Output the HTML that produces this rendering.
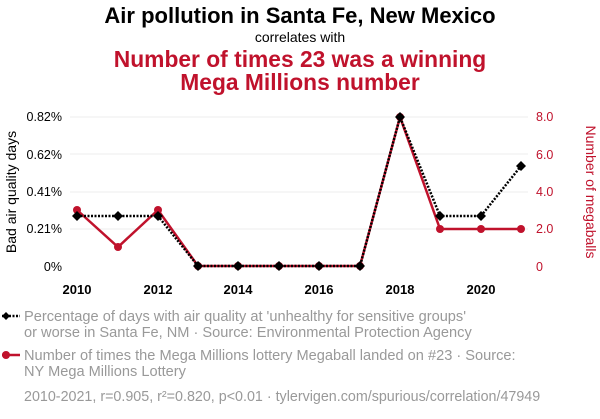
<!DOCTYPE html>
<html><head><meta charset="utf-8"><style>
body{margin:0;background:#fff;width:600px;height:414px;overflow:hidden;font-family:"Liberation Sans",sans-serif}
</style></head><body>
<svg width="600" height="414" xmlns="http://www.w3.org/2000/svg" font-family="Liberation Sans, sans-serif">
<text x="300" y="23" text-anchor="middle" font-size="22" font-weight="bold" fill="#000">Air pollution in Santa Fe, New Mexico</text>
<text x="300" y="42" text-anchor="middle" font-size="14" fill="#000">correlates with</text>
<text x="300" y="67" text-anchor="middle" font-size="22.8" font-weight="bold" fill="#c0122c">Number of times 23 was a winning</text>
<text x="300" y="90" text-anchor="middle" font-size="22.8" font-weight="bold" fill="#c0122c">Mega Millions number</text>
<g stroke="#eee" stroke-width="1">
<line x1="70" x2="528" y1="117" y2="117"/><line x1="70" x2="528" y1="154" y2="154"/><line x1="70" x2="528" y1="192" y2="192"/><line x1="70" x2="528" y1="229" y2="229"/>
</g>
<g font-size="12.5" fill="#000" text-anchor="end">
<text x="62" y="121">0.82%</text><text x="62" y="159">0.62%</text><text x="62" y="196">0.41%</text><text x="62" y="233">0.21%</text><text x="62" y="271">0%</text>
</g>
<g font-size="12.5" fill="#c0122c" text-anchor="start">
<text x="536" y="121">8.0</text><text x="536" y="159">6.0</text><text x="536" y="196">4.0</text><text x="536" y="233">2.0</text><text x="536" y="271">0</text>
</g>
<g font-size="13" font-weight="bold" fill="#000" text-anchor="middle">
<text x="77" y="294">2010</text><text x="158" y="294">2012</text><text x="238" y="294">2014</text><text x="319" y="294">2016</text><text x="400" y="294">2018</text><text x="481" y="294">2020</text>
</g>
<text transform="translate(16,192) rotate(-90)" text-anchor="middle" font-size="14" fill="#000">Bad air quality days</text>
<text transform="translate(586,192) rotate(90)" text-anchor="middle" font-size="14" fill="#c0122c">Number of megaballs</text>
<polyline fill="none" stroke="#c0122c" stroke-width="2.5" points="77,210 118,247 158,210 198,266 238,266 279,266 319,266 360,266 400,117 440,229 481,229 521,229"/>
<g fill="#c0122c"><circle cx="77" cy="210" r="4"/><circle cx="118" cy="247" r="4"/><circle cx="158" cy="210" r="4"/><circle cx="198" cy="266" r="4"/><circle cx="238" cy="266" r="4"/><circle cx="279" cy="266" r="4"/><circle cx="319" cy="266" r="4"/><circle cx="360" cy="266" r="4"/><circle cx="400" cy="117" r="4"/><circle cx="440" cy="229" r="4"/><circle cx="481" cy="229" r="4"/><circle cx="521" cy="229" r="4"/></g>
<polyline fill="none" stroke="#000" stroke-width="2.5" stroke-dasharray="2,1.5" points="77,216 118,216 158,216 198,266 238,266 279,266 319,266 360,266 400,117 440,216 481,216 521,166"/>
<g fill="#000">
<path d="M77 211l5 5-5 5-5-5z"/><path d="M118 211l5 5-5 5-5-5z"/><path d="M158 211l5 5-5 5-5-5z"/><path d="M198 261l5 5-5 5-5-5z"/><path d="M238 261l5 5-5 5-5-5z"/><path d="M279 261l5 5-5 5-5-5z"/><path d="M319 261l5 5-5 5-5-5z"/><path d="M360 261l5 5-5 5-5-5z"/><path d="M400 112l5 5-5 5-5-5z"/><path d="M440 211l5 5-5 5-5-5z"/><path d="M481 211l5 5-5 5-5-5z"/><path d="M521 161l5 5-5 5-5-5z"/>
</g>
<line x1="2" x2="20" y1="316" y2="316" stroke="#000" stroke-width="2.5" stroke-dasharray="2,1.5"/>
<path d="M6 312l4 4-4 4-4-4z" fill="#000"/>
<line x1="2" x2="20" y1="355" y2="355" stroke="#c0122c" stroke-width="2.5"/>
<circle cx="6" cy="355" r="4" fill="#c0122c"/>
<g font-size="14.6" fill="#999">
<text x="24" y="321">Percentage of days with air quality at 'unhealthy for sensitive groups'</text>
<text x="24" y="337">or worse in Santa Fe, NM · Source: Environmental Protection Agency</text>
<text x="24" y="360">Number of times the Mega Millions lottery Megaball landed on #23 · Source:</text>
<text x="24" y="376">NY Mega Millions Lottery</text>
</g>
<text x="24" y="401" font-size="14.3" fill="#999">2010-2021, r=0.905, r²=0.820, p&lt;0.01 · tylervigen.com/spurious/correlation/47949</text>
</svg>
</body></html>
